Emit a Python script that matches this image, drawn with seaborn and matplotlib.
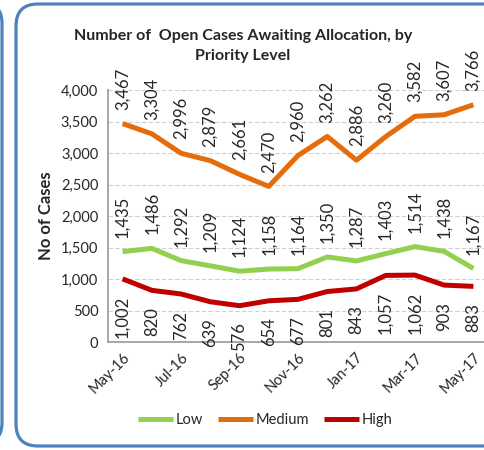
"""
Open cases awaiting allocation by priority level, May-16 to May-17
"""

import numpy as np
import pandas as pd
import matplotlib
matplotlib.use("Agg")
import matplotlib.pyplot as plt
import seaborn as sns
from matplotlib.patches import FancyBboxPatch
from matplotlib.transforms import IdentityTransform
from matplotlib.ticker import FuncFormatter

months = ['May-16', 'Jun-16', 'Jul-16', 'Aug-16', 'Sep-16', 'Oct-16', 'Nov-16',
          'Dec-16', 'Jan-17', 'Feb-17', 'Mar-17', 'Apr-17', 'May-17']
low = [1435, 1486, 1292, 1209, 1124, 1158, 1164, 1350, 1287, 1403, 1514, 1438, 1167]
medium = [3467, 3304, 2996, 2879, 2661, 2470, 2960, 3262, 2886, 3260, 3582, 3607, 3766]
high = [1002, 820, 762, 639, 576, 654, 677, 801, 843, 1057, 1062, 903, 883]

levels = ['Low', 'Medium', 'High']
colours = {'Low': '#92D050', 'Medium': '#E46C0A', 'High': '#C00000'}

sns.set_style("white")
plt.rcParams['font.family'] = ['Lato', 'DejaVu Sans']

df = pd.DataFrame({
    'idx': np.tile(np.arange(len(months)), 3),
    'Cases': low + medium + high,
    'Priority': np.repeat(levels, len(months)),
})

fig = plt.figure(figsize=(4.85, 4.5), dpi=100)
W, H = 485, 450
ax = fig.add_axes([108 / W, 1 - 342 / H, 380 / W, 252 / H])

sns.lineplot(data=df, x='idx', y='Cases', hue='Priority', hue_order=levels,
             palette=colours, linewidth=3.6, ax=ax, solid_capstyle='butt')

ax.set_xlim(-0.5, len(months) - 0.5)
ax.set_ylim(0, 4000)
ax.set_yticks(np.arange(0, 4001, 500))
ax.yaxis.set_major_formatter(FuncFormatter(lambda v, p: f"{int(v):,}"))
ax.yaxis.grid(True, color='#D0D0D0', linestyle=(0, (4, 2)), linewidth=0.8)
ax.set_axisbelow(True)

ax.set_xticks(np.arange(0, len(months), 2))
ax.set_xticklabels(months[::2], rotation=45, ha='right', rotation_mode='anchor')
ax.set_xticks(np.arange(-0.5, len(months), 2), minor=True)
ax.tick_params(axis='x', which='major', length=0, pad=6, labelsize=10.5)
ax.tick_params(axis='x', which='minor', length=4, width=1, color='#A0A0A0')
ax.tick_params(axis='y', length=4, width=1, color='#A0A0A0', labelsize=10.5, pad=3)

for s in ['top', 'right']:
    ax.spines[s].set_visible(False)
for s in ['left', 'bottom']:
    ax.spines[s].set_color('#A0A0A0')
    ax.spines[s].set_linewidth(1.3)

ax.set_xlabel('')
ax.set_ylabel('No of Cases', fontsize=12, fontweight='bold', labelpad=5)

# data labels
for i in range(len(months)):
    for vals, off, va in [(low, 10, 'bottom'), (medium, 10, 'bottom'), (high, -12, 'top')]:
        ax.annotate(f"{vals[i]:,}", (i, vals[i]), xytext=(0, off), textcoords='offset points',
                    rotation=90, ha='center', va=va, fontsize=12)

handles, labels = ax.get_legend_handles_labels()
ax.get_legend().remove()
fig.legend(handles, labels, loc='center', bbox_to_anchor=(265 / W, 1 - 420 / H),
           ncol=3, frameon=False, fontsize=10.5, handlelength=2.4, columnspacing=1.0,
           handletextpad=0.2)

fig.text(243 / W, 1 - 46 / H, "Number of  Open Cases Awaiting Allocation, by\nPriority Level",
         ha='center', va='center', fontsize=11.5, fontweight='bold', linespacing=1.6)

# rounded chart borders
fig.patches.append(FancyBboxPatch((16, 4), 620, 442, boxstyle="round,pad=0,rounding_size=22",
                                  transform=IdentityTransform(), fill=False,
                                  edgecolor='#4F81BD', linewidth=2.3))
fig.patches.append(FancyBboxPatch((-300, 7), 302, 440, boxstyle="round,pad=0,rounding_size=20",
                                  transform=IdentityTransform(), fill=False,
                                  edgecolor='#4F81BD', linewidth=2.3))

fig.savefig('out.png', dpi=100)
